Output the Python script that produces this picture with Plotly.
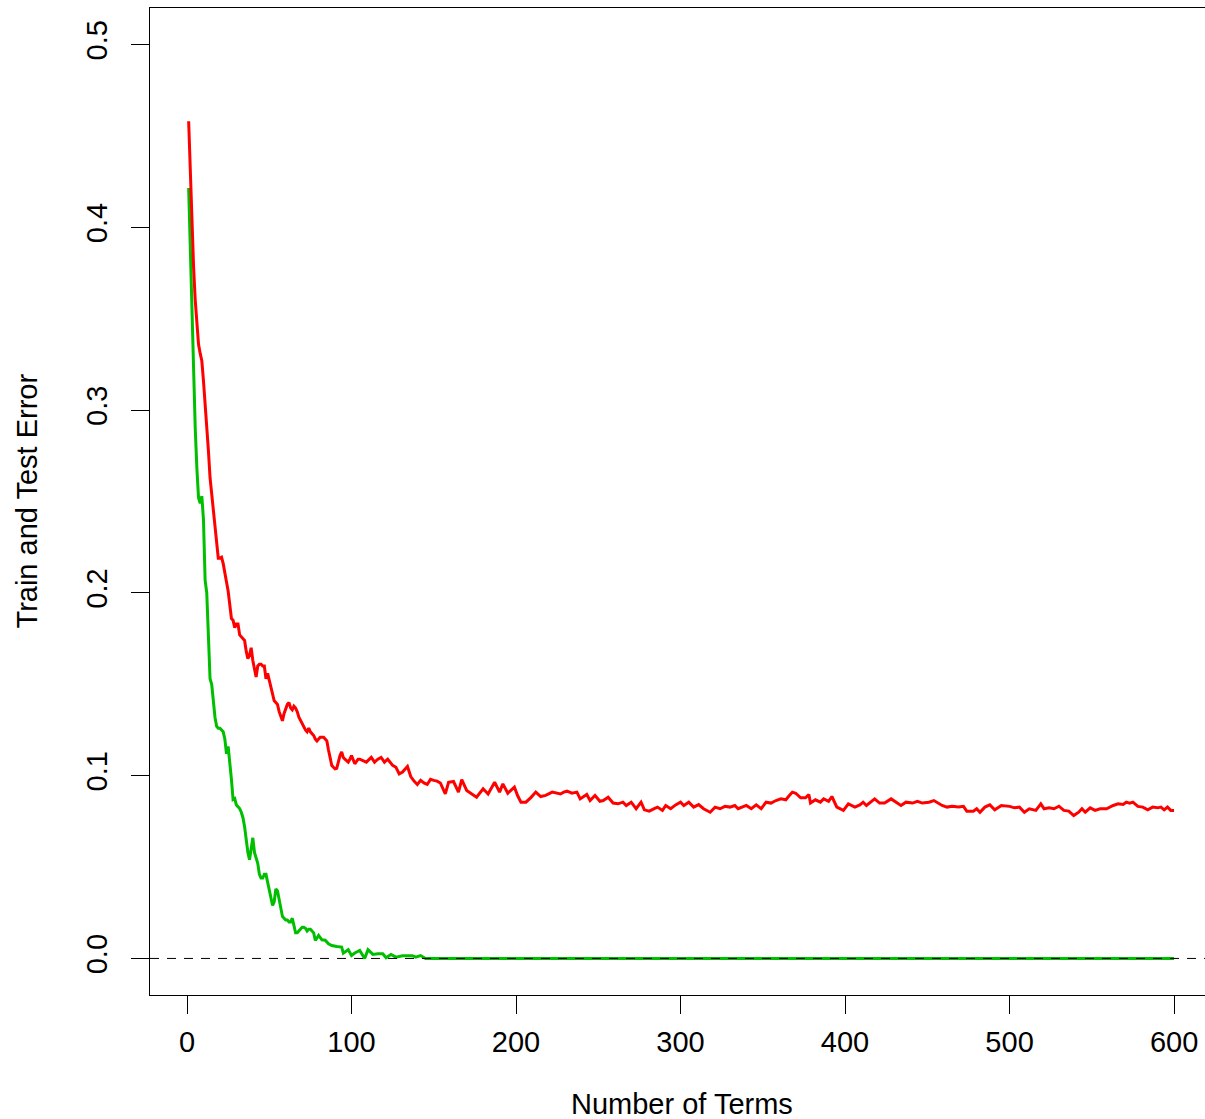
import plotly.graph_objects as go

# ---------------- data ----------------
test_terms = [1,2,3,4,5,6,7,8,9,10,11,12,13,14,15,16,17,18,19,20,21,22,23,24,25,26,27,28,29,30,
              31,32,33,34,35,36,37,38,39,40,41,42,43,44,45,46,47,48,49,50,51,52,53,54,55,56,57,58,59,60,
              61,62,63,64,65,66,67,68,69,70,71,72,73,74,75,76,77,78,79,80,81,82,83,84,85,86,87,88,89,90,
              91,92,93,94,95,96,97,98,99,100,102,104,105,107,109,112,114,116,118,120,122,125,127,129,131,134,136,138,140,142,
              144,146,148,150,152,154,157,159,162,165,167,170,173,176,180,183,187,190,192,195,199,201,203,206,209,212,215,218,222,227,
              229,231,234,237,239,243,245,248,251,253,256,259,262,265,267,270,273,276,278,281,284,286,289,291,294,297,300,302,305,308,
              311,314,318,321,324,327,330,333,335,338,340,343,346,349,352,355,358,361,364,366,368,370,373,376,378,379,382,385,387,390,
              392,395,399,402,406,409,411,413,418,421,424,428,432,434,437,441,444,447,451,454,459,462,465,469,472,474,478,480,482,485,
              488,491,495,500,503,506,509,512,516,519,521,524,527,530,533,536,539,542,544,546,549,552,555,559,563,566,569,571,573,575,
              578,581,584,587,590,592,594,596,598,600]
test_error = [0.458,0.428,0.400,0.378,0.360,0.348,0.336,0.331,0.327,0.316,0.305,0.291,0.278,0.263,0.254,0.243,0.234,0.226,0.219,0.219,
              0.2195,0.216,0.210,0.206,0.201,0.193,0.186,0.185,0.181,0.183,0.183,0.177,0.176,0.175,0.174,0.168,0.164,0.166,0.170,0.163,
              0.158,0.154,0.160,0.161,0.161,0.160,0.160,0.153,0.156,0.152,0.148,0.144,0.141,0.140,0.139,0.135,0.132,0.130,0.134,0.137,
              0.139,0.140,0.137,0.136,0.138,0.137,0.135,0.132,0.130,0.128,0.126,0.125,0.124,0.126,0.124,0.123,0.122,0.120,0.119,0.120,
              0.121,0.121,0.121,0.120,0.119,0.114,0.110,0.1056,0.1046,0.1037,0.104,0.108,0.111,0.113,0.110,0.109,0.108,0.1074,0.109,0.111,
              0.1065,0.109,0.109,0.108,0.1074,0.110,0.1074,0.109,0.110,0.1074,0.109,0.1056,0.1046,0.101,0.102,0.105,0.0995,0.097,0.0952,0.0974,
              0.096,0.0952,0.098,0.0974,0.097,0.096,0.090,0.0964,0.0968,0.091,0.0978,0.0919,0.090,0.0882,0.0928,0.090,0.0964,0.091,0.0955,0.0904,
              0.0937,0.089,0.0855,0.0855,0.088,0.091,0.0886,0.0892,0.091,0.090,0.091,0.0915,0.0904,0.091,0.0873,0.0897,0.0864,0.0892,0.0860,0.0864,
              0.0882,0.0850,0.0846,0.0855,0.0837,0.0855,0.0819,0.0855,0.0813,0.0806,0.0820,0.0828,0.0810,0.0837,0.0819,0.0840,0.0855,0.0837,0.0855,0.0828,
              0.0842,0.0819,0.0800,0.0828,0.0819,0.0832,0.0828,0.0837,0.0819,0.0830,0.0837,0.0819,0.0840,0.0819,0.0855,0.0850,0.0864,0.0873,0.0868,0.0890,
              0.0910,0.0904,0.0879,0.0879,0.0897,0.0850,0.0868,0.0855,0.0873,0.0860,0.0886,0.0828,0.0810,0.0846,0.0828,0.0840,0.0855,0.0837,0.0873,0.0850,
              0.0850,0.0873,0.0846,0.0837,0.0855,0.0850,0.0860,0.0850,0.0855,0.0864,0.0837,0.0828,0.0832,0.0828,0.0832,0.0806,0.0806,0.0819,0.0800,0.0828,
              0.0840,0.0813,0.0837,0.0832,0.0824,0.0828,0.0800,0.0819,0.0810,0.0846,0.0819,0.0824,0.0819,0.0833,0.0810,0.0806,0.0782,0.0800,0.0819,0.0800,
              0.0824,0.0810,0.0819,0.0819,0.0837,0.0846,0.0842,0.0855,0.0850,0.0855,0.0832,0.0828,0.0813,0.0828,0.0824,0.0828,0.0813,0.0828,0.0810,0.0810]

train_terms = [1,2,3,4,5,6,7,8,9,10,11,12,13,14,15,16,17,18,19,20,21,22,23,24,25,26,27,28,29,30,
               31,32,33,34,35,36,37,38,39,40,41,42,43,44,45,46,47,48,49,50,51,52,53,54,55,56,57,58,59,60,
               61,62,63,64,65,66,67,68,69,70,71,72,73,74,75,76,77,78,79,80,82,84,86,88,91,94,95,96,98,100,
               102,105,108,110,111,113,116,119,121,124,127,131,135,137,139,142,145,600]
train_error = [0.4215,0.390,0.355,0.315,0.290,0.268,0.252,0.249,0.253,0.240,0.207,0.200,0.175,0.153,0.150,0.140,0.132,0.127,0.126,0.126,
               0.125,0.124,0.120,0.112,0.116,0.108,0.098,0.087,0.0875,0.084,0.083,0.082,0.080,0.077,0.072,0.064,0.058,0.054,0.060,0.066,
               0.058,0.055,0.052,0.046,0.044,0.044,0.046,0.046,0.042,0.038,0.033,0.029,0.031,0.038,0.037,0.032,0.027,0.023,0.022,0.021,
               0.021,0.020,0.020,0.022,0.018,0.014,0.014,0.015,0.016,0.017,0.017,0.0165,0.015,0.016,0.016,0.015,0.014,0.0098,0.011,0.0126,
               0.0102,0.010,0.008,0.0071,0.0065,0.0062,0.0029,0.0035,0.0048,0.0016,
               0.003,0.0044,0.0,0.0048,0.004,0.0022,0.0025,0.0025,0.0004,0.0022,0.0007,0.0015,0.0015,0.0015,0.0007,0.0016,0.0,0.0]

x_ticks = [0, 100, 200, 300, 400, 500, 600]
y_ticks = [0.0, 0.1, 0.2, 0.3, 0.4, 0.5]
y_tick_labels = ["0.0", "0.1", "0.2", "0.3", "0.4", "0.5"]
x_title = "Number of Terms"
y_title = "Train and Test Error"

FONT = "Liberation Sans, Arial, Helvetica, sans-serif"

fig = go.Figure()
fig.add_trace(go.Scatter(x=train_terms, y=train_error, mode="lines",
                         line=dict(color="#00BE00", width=3), showlegend=False))
fig.add_trace(go.Scatter(x=test_terms, y=test_error, mode="lines",
                         line=dict(color="#FF0000", width=3), showlegend=False))

# horizontal dashed reference line at 0 (drawn on top)
fig.add_shape(type="line", xref="paper", x0=0, x1=1, yref="y", y0=0, y1=0,
              line=dict(color="black", width=1, dash="9px,8px"), layer="above")

fig.update_layout(
    width=1205, height=1119,
    margin=dict(l=150, r=0, t=8, b=124),
    plot_bgcolor="white", paper_bgcolor="white",
    font=dict(family=FONT, size=29, color="black"),
    xaxis=dict(range=[-22.5, 618.8], tickvals=x_ticks, ticks="outside", ticklen=18,
               tickcolor="black", tickwidth=1, showline=True, linecolor="black", linewidth=1,
               mirror=True, showgrid=False, zeroline=False, ticklabelstandoff=3,
               tickfont=dict(size=29)),
    yaxis=dict(range=[-0.02, 0.52], tickvals=y_ticks, ticktext=y_tick_labels, ticks="outside",
               ticklen=18, tickcolor="black", tickwidth=1, showline=True, linecolor="black",
               linewidth=1, showgrid=False, zeroline=False, tickangle=-90, ticklabelstandoff=12,
               tickfont=dict(size=29)),
    annotations=[
        dict(text=x_title, xref="paper", x=(681.5 - 150) / 1055, yref="paper", y=0,
             yanchor="middle", yshift=-109, showarrow=False, font=dict(size=29)),
        dict(text=y_title, xref="paper", x=0, xanchor="center", xshift=-124, yref="paper",
             y=0.5, yanchor="middle", textangle=-90, showarrow=False, font=dict(size=29)),
    ],
)

fig.write_html("out.html")
